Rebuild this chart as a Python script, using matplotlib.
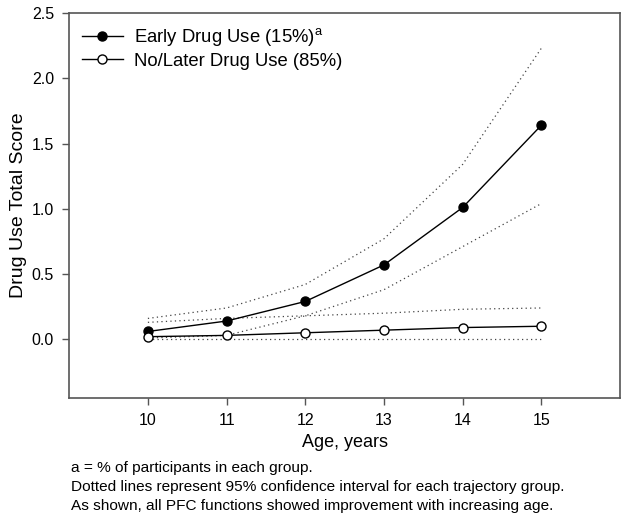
import matplotlib
matplotlib.use("Agg")
import matplotlib.pyplot as plt

plt.rcParams["font.family"] = ["Liberation Sans", "DejaVu Sans"]

# values
ages = [10, 11, 12, 13, 14, 15]
early_mean = [0.06, 0.14, 0.29, 0.57, 1.01, 1.64]
early_upper = [0.16, 0.24, 0.42, 0.77, 1.34, 2.23]
early_lower = [0.01, 0.03, 0.18, 0.38, 0.71, 1.04]
later_mean = [0.02, 0.03, 0.05, 0.07, 0.09, 0.10]
later_upper = [0.13, 0.16, 0.18, 0.20, 0.23, 0.24]
later_lower = [0.0, 0.0, 0.0, 0.0, 0.0, 0.0]

labels = ["Early Drug Use (15%)$^{\\mathregular{a}}$", "No/Later Drug Use (85%)"]
yticks = [0.0, 0.5, 1.0, 1.5, 2.0, 2.5]
notes = [
    "a = % of participants in each group.",
    "Dotted lines represent 95% confidence interval for each trajectory group.",
    "As shown, all PFC functions showed improvement with increasing age.",
]

fig = plt.figure(figsize=(6.29, 5.22), dpi=100)
ax = fig.add_axes([0.11, 0.2375, 0.8757, 0.7375])

dot = dict(color="#444444", linestyle=(0, (1, 2.6)), linewidth=0.9)
for band in (early_upper, early_lower, later_upper, later_lower):
    ax.plot(ages, band, **dot)

ax.plot(ages, early_mean, color="black", linewidth=1.0, marker="o",
        markersize=6.5, markerfacecolor="black", label=labels[0])
ax.plot(ages, later_mean, color="black", linewidth=1.0, marker="o",
        markersize=6.5, markerfacecolor="white", label=labels[1])

ax.set_xlim(9, 16)
ax.set_ylim(-0.45, 2.5)
ax.set_xticks(ages)
ax.set_yticks(yticks)
ax.set_yticklabels([f"{v:.1f}" for v in yticks])
ax.tick_params(direction="out", length=5, width=1, color="#555555",
               labelsize=11.5, pad=6)
for s in ax.spines.values():
    s.set_color("#555555")
    s.set_linewidth(1.2)

ax.set_xlabel("Age, years", fontsize=13, labelpad=4)
ax.set_ylabel("Drug Use Total Score", fontsize=14, labelpad=3)

ax.legend(loc="upper left", frameon=False, fontsize=13.3, handlelength=2.2,
          borderaxespad=0.3, labelspacing=0.25, handletextpad=0.6)

for i, line in enumerate(notes):
    fig.text(0.113, 0.1034 - i * 0.0365, line, fontsize=11.1, va="center")

fig.savefig("out.png", dpi=100)
